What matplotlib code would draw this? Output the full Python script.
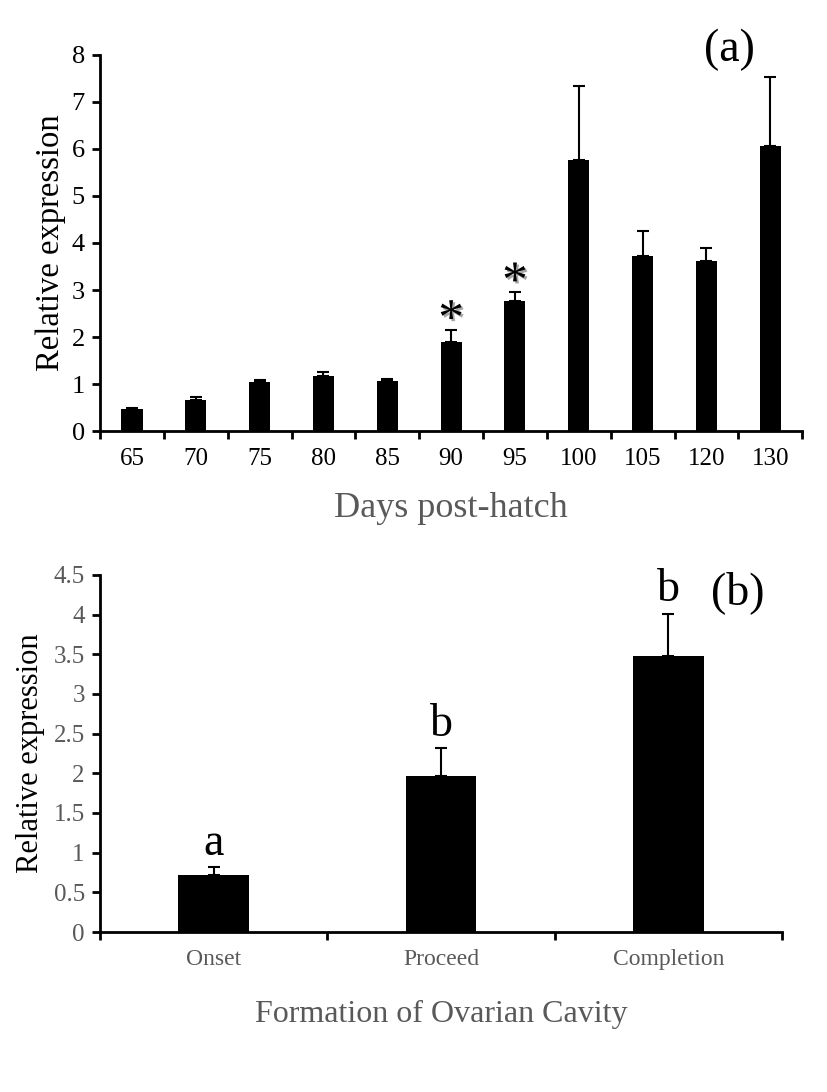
import numpy as np
import matplotlib
matplotlib.use('Agg')
import matplotlib.pyplot as plt
import matplotlib.patheffects as pe

plt.rcParams['font.family'] = ['Liberation Serif', 'DejaVu Serif']

# panel (a)
days = ['65', '70', '75', '80', '85', '90', '95', '100', '105', '120', '130']
expr_a = [0.48, 0.66, 1.04, 1.17, 1.06, 1.89, 2.77, 5.77, 3.72, 3.62, 6.05]
err_a = [0.02, 0.07, 0.06, 0.09, 0.06, 0.26, 0.18, 1.57, 0.54, 0.27, 1.47]
star_days = ['90', '95']

# panel (b)
stages = ['Onset', 'Proceed', 'Completion']
expr_b = [0.72, 1.97, 3.48]
err_b = [0.10, 0.35, 0.53]
letters_b = ['a', 'b', 'b']

gray = '#595959'

fig = plt.figure(figsize=(8.27, 10.92), dpi=100)
ax1 = fig.add_axes([0.121, 0.605, 0.849, 0.345])
ax2 = fig.add_axes([0.121, 0.1465, 0.8245, 0.327])


def style_axes(ax, n):
    for s in ['top', 'right']:
        ax.spines[s].set_visible(False)
    for s in ['left', 'bottom']:
        ax.spines[s].set_linewidth(2)
    ax.set_xlim(-0.5, n - 0.5)
    ax.set_xticks(np.arange(n + 1) - 0.5)
    ax.set_xticklabels([])
    ax.tick_params(axis='x', which='major', direction='out', length=6, width=2)
    ax.tick_params(axis='y', direction='out', length=6, width=2)


# --- (a)
x1 = np.arange(len(days))
ax1.bar(x1, expr_a, width=0.33, color='black', zorder=2)
ax1.errorbar(x1, expr_a, yerr=[np.zeros(len(err_a)), err_a], fmt='none',
             ecolor='black', elinewidth=1.5, capsize=4, capthick=1.5, zorder=3)
style_axes(ax1, len(days))
ax1.set_ylim(0, 8)
ax1.set_yticks(range(0, 9))
ax1.tick_params(axis='y', labelsize=19, labelcolor='black', pad=5)
ax1.set_xticks(x1, minor=True)
ax1.set_xticklabels(days, minor=True, fontsize=18)
ax1.tick_params(axis='x', which='minor', length=0, pad=12)
ax1.set_ylabel('Relative expression', fontsize=23.5, labelpad=4)
ax1.set_xlabel('Days post-hatch', fontsize=26, color=gray, labelpad=16)
ax1.text(0.897, 1.013, '(a)', transform=ax1.transAxes, fontsize=33,
         ha='center', va='center')

# significance stars
for d in star_days:
    i = days.index(d)
    ax1.text(i, expr_a[i] + err_a[i] - 0.08, '*', fontsize=37, ha='center',
             va='baseline',
             path_effects=[pe.SimplePatchShadow(offset=(1.5, -1.5), alpha=0.35),
                           pe.Normal()])

# --- (b)
x2 = np.arange(len(stages))
ax2.bar(x2, expr_b, width=0.31, color='black', zorder=2)
ax2.errorbar(x2, expr_b, yerr=[np.zeros(len(err_b)), err_b], fmt='none',
             ecolor='black', elinewidth=1.5, capsize=4, capthick=1.5, zorder=3)
style_axes(ax2, len(stages))
ax2.set_ylim(0, 4.5)
ax2.set_yticks(np.arange(0, 4.51, 0.5))
ax2.set_yticklabels(['0', '0.5', '1', '1.5', '2', '2.5', '3', '3.5', '4', '4.5'])
ax2.tick_params(axis='y', labelsize=18, labelcolor=gray, pad=5)
ax2.set_xticks(x2, minor=True)
ax2.set_xticklabels(stages, minor=True, fontsize=17, color=gray)
ax2.tick_params(axis='x', which='minor', length=0, pad=12)
ax2.set_ylabel('Relative expression', fontsize=22, labelpad=6)
ax2.set_xlabel('Formation of Ovarian Cavity', fontsize=23, color=gray, labelpad=22)
ax2.text(0.935, 0.95, '(b)', transform=ax2.transAxes, fontsize=33,
         ha='center', va='center')

for i, lab in enumerate(letters_b):
    ax2.text(i, expr_b[i] + err_b[i] + 0.03, lab, fontsize=33, ha='center',
             va='bottom')

fig.savefig('out.png', dpi=100)
